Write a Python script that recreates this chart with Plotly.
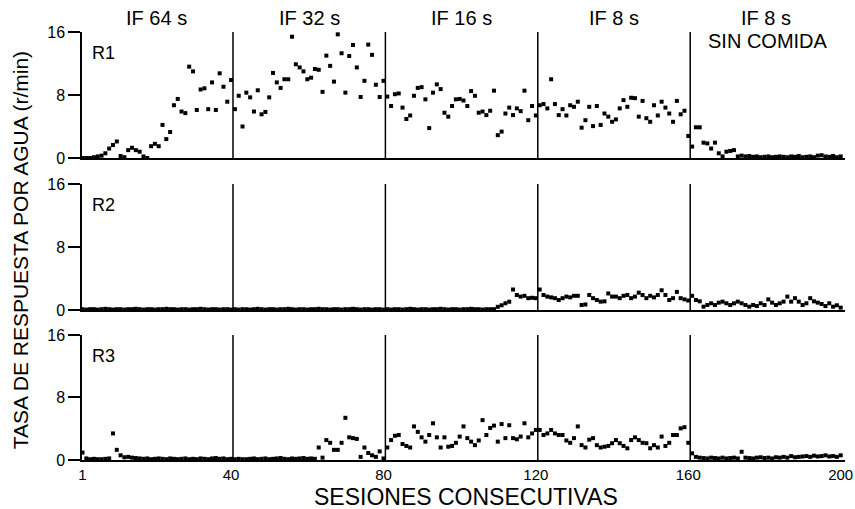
import plotly.graph_objects as go
from plotly.subplots import make_subplots

sessions = list(range(1, 201))
phase_ends = [40, 80, 120, 160, 200]
phase_labels = ["IF 64 s", "IF 32 s", "IF 16 s", "IF 8 s", "IF 8 s"]
extra_label = "SIN COMIDA"
x_ticks = [1, 40, 80, 120, 160, 200]
y_ticks = [0, 8, 16]
rat_names = ["R1", "R2", "R3"]

r1 = [0, 0, 0, 0.1, 0.2, 0.3, 0.6, 1.2, 1.65, 2.1, 0.25, 0.1, 1.0, 1.3, 1.0, 0.8, 0.2, 0.0, 1.5, 1.8,
      1.5, 4.2, 2.4, 3.3, 6.7, 7.5, 5.9, 5.7, 11.6, 11.0, 6.1, 8.7, 8.85, 6.2, 9.6, 6.1, 10.75, 9.05, 7.15, 9.9,
      6.2, 7.9, 4.0, 8.3, 7.7, 5.9, 8.6, 5.55, 5.85, 7.7, 10.8, 9.6, 8.9, 10.0, 10.0, 15.4, 11.9, 11.5, 11.0, 10.0,
      10.2, 11.3, 11.2, 8.4, 13.0, 11.7, 9.7, 15.7, 13.3, 8.3, 12.95, 14.35, 11.5, 7.75, 9.8, 14.4, 13.1, 9.3, 7.75, 9.8,
      7.8, 6.6, 8.1, 8.2, 6.4, 4.95, 5.4, 7.9, 8.9, 9.0, 7.45, 3.8, 8.3, 9.35, 8.75, 5.75, 5.25, 6.6, 7.45, 7.5,
      7.3, 6.6, 8.5, 7.9, 5.75, 5.9, 5.45, 6.0, 8.55, 2.9, 3.35, 5.65, 6.4, 5.45, 6.3, 5.95, 8.55, 4.8, 6.6, 5.4,
      6.7, 6.85, 6.3, 10.0, 6.85, 5.45, 6.2, 5.4, 6.7, 6.5, 7.15, 3.85, 4.8, 6.5, 4.05, 6.6, 4.2, 5.65, 5.25, 4.6,
      4.9, 6.3, 7.35, 6.5, 7.65, 7.6, 5.25, 7.25, 5.05, 4.6, 6.7, 5.4, 7.15, 6.4, 5.65, 4.6, 7.25, 5.55, 6.0, 2.8,
      1.45, 3.9, 3.9, 1.95, 1.85, 1.2, 1.95, 0.6, 0.2, 0.8, 0.9, 1.0, 0.2, 0.3, 0.2, 0.25, 0.15, 0.2, 0.1, 0.15,
      0.2, 0.1, 0.15, 0.2, 0.15, 0.1, 0.2, 0.15, 0.25, 0.1, 0.15, 0.2, 0.1, 0.3, 0.35, 0.2, 0.15, 0.25, 0.1, 0.2]

r2 = [0.1, 0.05, 0.1, 0.1, 0.05, 0.1, 0.15, 0.1, 0.05, 0.1, 0.1, 0.05, 0.1, 0.1, 0.15, 0.1, 0.05, 0.1, 0.1, 0.05,
      0.1, 0.1, 0.15, 0.1, 0.1, 0.05, 0.1, 0.1, 0.05, 0.1, 0.1, 0.15, 0.1, 0.05, 0.1, 0.1, 0.05, 0.1, 0.1, 0.05,
      0.1, 0.05, 0.1, 0.1, 0.05, 0.1, 0.15, 0.1, 0.05, 0.1, 0.1, 0.05, 0.1, 0.1, 0.15, 0.1, 0.05, 0.1, 0.1, 0.05,
      0.1, 0.1, 0.15, 0.1, 0.1, 0.05, 0.1, 0.1, 0.05, 0.1, 0.1, 0.15, 0.1, 0.05, 0.1, 0.1, 0.05, 0.1, 0.1, 0.05,
      0.1, 0.05, 0.1, 0.1, 0.05, 0.1, 0.15, 0.1, 0.05, 0.1, 0.1, 0.05, 0.1, 0.1, 0.15, 0.1, 0.05, 0.1, 0.1, 0.05,
      0.1, 0.1, 0.15, 0.1, 0.1, 0.05, 0.1, 0.1, 0.1, 0.4, 0.6, 0.85, 1.05, 2.6, 1.9, 1.7, 1.8, 1.5, 1.55, 1.5,
      2.6, 1.9, 1.7, 1.6, 1.5, 1.27, 1.5, 1.7, 1.6, 1.8, 1.8, 0.63, 0.7, 1.9, 1.5, 1.27, 1.06, 1.1, 2.1, 1.7,
      1.7, 1.5, 1.8, 1.9, 1.5, 1.7, 2.2, 1.9, 1.5, 1.8, 1.6, 1.9, 2.5, 1.9, 1.27, 1.5, 2.3, 1.5, 1.35, 1.2,
      1.8, 1.27, 1.1, 0.42, 0.63, 0.85, 0.63, 0.93, 1.06, 0.85, 0.63, 0.85, 1.06, 0.85, 0.63, 0.42, 0.63, 0.5, 0.85, 0.63,
      1.35, 0.93, 0.63, 0.85, 1.06, 1.7, 1.06, 1.5, 1.06, 0.63, 0.85, 1.5, 1.1, 0.93, 0.76, 0.5, 0.85, 0.42, 0.6, 0.3]

r3 = [0.95, 0.2, 0.1, 0.15, 0.1, 0.1, 0.15, 0.2, 3.4, 1.3, 0.6, 0.35, 0.4, 0.3, 0.25, 0.2, 0.15, 0.2, 0.1, 0.15,
      0.2, 0.15, 0.1, 0.2, 0.15, 0.1, 0.15, 0.2, 0.1, 0.15, 0.1, 0.2, 0.15, 0.1, 0.2, 0.25, 0.15, 0.2, 0.1, 0.15,
      0.1, 0.15, 0.1, 0.1, 0.15, 0.2, 0.1, 0.15, 0.2, 0.1, 0.15, 0.2, 0.25, 0.15, 0.1, 0.2, 0.15, 0.2, 0.25, 0.15,
      0.2, 0.15, 1.6, 0.3, 2.55, 2.2, 1.3, 1.3, 2.2, 5.4, 2.9, 2.8, 2.7, 0.4, 1.6, 0.9, 0.6, 0.4, 1.1, 0.2,
      1.6, 2.55, 3.1, 3.2, 2.05, 1.8, 1.6, 4.3, 3.6, 2.9, 2.35, 3.2, 4.7, 2.9, 1.6, 2.9, 1.7, 1.8, 2.2, 3.0,
      4.3, 2.8, 2.35, 1.9, 2.5, 5.1, 3.2, 4.1, 4.4, 2.35, 4.6, 2.8, 4.45, 2.8, 2.65, 3.0, 4.7, 2.9, 3.4, 3.85,
      3.85, 3.2, 3.4, 3.85, 3.4, 3.2, 3.2, 2.5, 2.2, 2.8, 4.3, 1.9, 1.6, 2.6, 2.8, 1.9, 1.6, 1.7, 1.8, 2.15,
      2.55, 2.15, 1.8, 1.5, 2.55, 2.9, 2.55, 2.2, 2.15, 1.5, 1.9, 1.6, 3.0, 1.8, 2.2, 3.2, 3.2, 4.05, 4.2, 2.2,
      0.85, 0.4, 0.3, 0.25, 0.2, 0.3, 0.25, 0.2, 0.3, 0.2, 0.25, 0.3, 0.2, 1.05, 0.3, 0.25, 0.2, 0.3, 0.35, 0.25,
      0.3, 0.2, 0.35, 0.3, 0.4, 0.3, 0.5, 0.35, 0.4, 0.45, 0.5, 0.4, 0.55, 0.45, 0.5, 0.6, 0.45, 0.5, 0.4, 0.6]

FONT = "Liberation Sans, Arial, Helvetica, sans-serif"

fig = make_subplots(rows=3, cols=1, shared_xaxes=True)
for i, ys in enumerate([r1, r2, r3]):
    fig.add_trace(go.Scatter(x=sessions, y=ys, mode="markers",
                             marker=dict(symbol="square", size=4, color="black",
                                         line=dict(width=0)),
                             cliponaxis=False, showlegend=False, hoverinfo="skip"),
                  row=i + 1, col=1)

domains = [[0.7056, 1.0], [0.3505, 0.6449], [0.0, 0.2921]]
for i in range(3):
    yname = "yaxis" if i == 0 else f"yaxis{i+1}"
    xname = "xaxis" if i == 0 else f"xaxis{i+1}"
    fig.layout[yname].update(domain=domains[i], range=[0, 16], tickvals=y_ticks,
                             ticks="outside", ticklen=12, tickwidth=1.5, tickcolor="black",
                             showline=True, linecolor="black", linewidth=1.5,
                             showgrid=False, zeroline=False, automargin=False,
                             tickfont=dict(family=FONT, size=16, color="black"))
    fig.layout[xname].update(range=[0.87, 201.13], showline=True, linecolor="black", linewidth=1.5,
                             showgrid=False, zeroline=False, tickvals=x_ticks,
                             showticklabels=(i == 2), ticks="", automargin=False,
                             ticklabelstandoff=0, ticklabeloverflow="allow",
                             tickfont=dict(family=FONT, size=15, color="black"))
    yref = "y" if i == 0 else f"y{i+1}"
    xref = "x" if i == 0 else f"x{i+1}"
    for b in phase_ends[:-1]:
        fig.add_shape(type="line", x0=b + 0.5, x1=b + 0.5, y0=0, y1=16,
                      xref=xref, yref=yref, line=dict(color="black", width=1.5))
    fig.add_annotation(text=rat_names[i], xref="paper", x=0.0105, xanchor="left",
                       yref=f"{yref} domain", y=0.833, yanchor="middle", showarrow=False,
                       font=dict(family=FONT, size=18, color="black"))

starts = [1] + [e + 1 for e in phase_ends[:-1]]
for s, e, lab in zip(starts, phase_ends, phase_labels):
    fig.add_annotation(text=lab, x=(s + e) / 2, xref="x", yref="paper", y=1.032,
                       yanchor="middle", showarrow=False,
                       font=dict(family=FONT, size=20, color="black"))
fig.add_annotation(text=extra_label, x=(starts[-1] + phase_ends[-1]) / 2 + 0.5, xref="x",
                   yref="paper", y=0.979, yanchor="middle", showarrow=False,
                   font=dict(family=FONT, size=20, color="black"))

fig.add_annotation(text="TASA DE RESPUESTA POR AGUA (r/min)", textangle=-90,
                   xref="paper", x=-0.0813, xanchor="center", yref="paper", y=0.49,
                   yanchor="middle", showarrow=False,
                   font=dict(family=FONT, size=21, color="black"))
fig.add_annotation(text="SESIONES CONSECUTIVAS", xref="paper", x=0.503, xanchor="center",
                   yref="paper", y=-0.0865, yanchor="middle", showarrow=False,
                   font=dict(family=FONT, size=23, color="black"))

fig.update_layout(width=855, height=509, margin=dict(l=82, r=10, t=32, b=49, autoexpand=False),
                  plot_bgcolor="white", paper_bgcolor="white")
fig.write_html("out.html")
